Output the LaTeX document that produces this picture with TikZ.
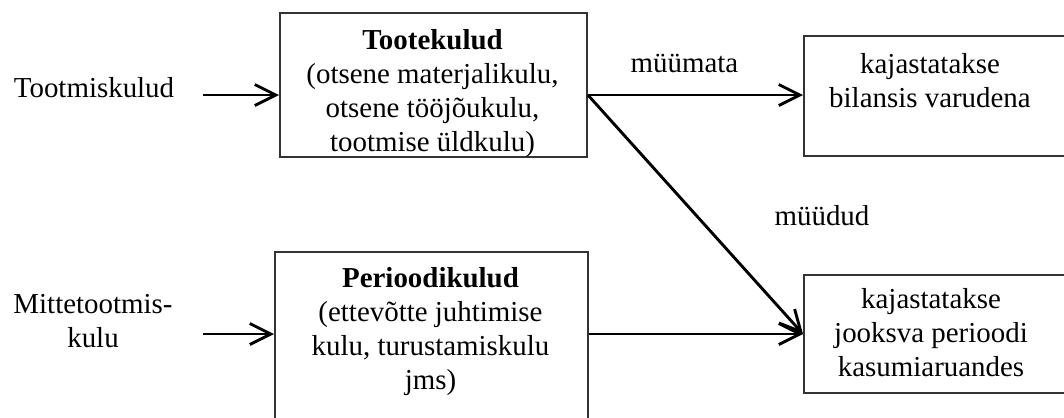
\documentclass[tikz,border=0pt]{standalone}
\usepackage{fontspec}
\setmainfont{Liberation Serif}
\usetikzlibrary{arrows.meta,positioning}

\begin{document}
\begin{tikzpicture}[x=0.415pt,y=-0.415pt,
  font=\fontsize{12}{14.1}\selectfont,
  box/.style={rectangle,draw=black!80,line width=0.8pt,inner sep=0pt,anchor=north west},
  txt/.style={align=center,inner sep=0pt,anchor=base},
  arrow/.style={-{Straight Barb[length=8.7pt,width=8.7pt]},line width=1.2pt}
]
\clip (0,0) rectangle (1064,417);
% boxes
\node[box,minimum width=127.4pt,minimum height=59.8pt] (tk) at (279,12) {};
\node[box,minimum width=129.9pt,minimum height=74.7pt] (pk) at (274,251) {};
\node[box,minimum width=124.5pt,minimum height=49.8pt] (kb) at (803,35) {};
\node[box,minimum width=124.5pt,minimum height=49pt] (kk) at (803,274) {};
% texts (anchored on the baseline of their last line)
\node[txt] (tkt) at (432.5,151) {\textbf{Tootekulud}\\(otsene materjalikulu,\\otsene tööjõukulu,\\tootmise üldkulu)};
\node[txt] (pkt) at (430.5,389) {\textbf{Perioodikulud}\\(ettevõtte juhtimise\\kulu, turustamiskulu\\jms)};
\node[txt] (kbt) at (930,107) {kajastatakse\\bilansis varudena};
\node[txt] (kkt) at (931,376) {kajastatakse\\jooksva perioodi\\kasumiaruandes};
\node[txt] (tm) at (94,97.5) {Tootmiskulud};
\node[txt] (mt) at (93,347) {Mittetootmis-\\kulu};
\node[txt] (mm) at (684.5,72) {müümata};
\node[txt] (md) at (822,225) {müüdud};
% connectors
\coordinate (s1) at (203,95);
\coordinate (s2) at (203,334);
\coordinate (fork) at (s1 -| tk.east);
\coordinate (join) at (s2 -| kk.west);
\draw[arrow] (s1) -- (s1 -| tk.west);
\draw[arrow] (s2) -- (s2 -| pk.west);
\draw[arrow] (fork) -- (fork -| kb.west);
\draw[arrow] (fork) -- (join);
\draw[arrow] (s2 -| pk.east) -- (join);
\end{tikzpicture}
\end{document}
